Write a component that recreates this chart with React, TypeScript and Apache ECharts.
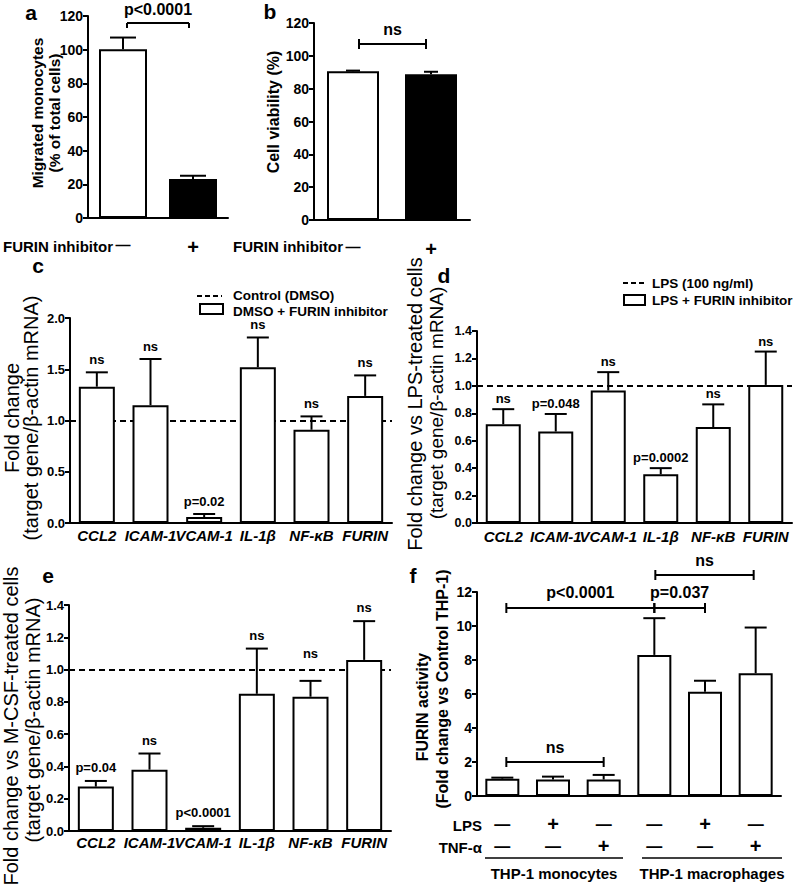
import React, { useEffect, useRef } from "react";
import * as echarts from "echarts";

// ---------- data ----------
const genes = ["CCL2", "ICAM-1", "VCAM-1", "IL-1β", "NF-κB", "FURIN"];

// panel a
const aCategories = ["—", "+"];
const aValues = [100.3, 23.2];
const aErrTop = [107.2, 25.1];
const aBrackets = [[0, 1, 115.8]];
const aBracketLabels = ["p<0.0001"];

// panel b
const bCategories = ["—", "+"];
const bValues = [90.6, 88.8];
const bErrTop = [91.0, 90.3];
const bBrackets = [[0, 1, 107.2]];
const bBracketLabels = ["ns"];

// panel c
const cValues = [1.33, 1.15, 0.058, 1.52, 0.91, 1.24];
const cErrTop = [1.47, 1.6, 0.088, 1.81, 1.04, 1.44];
const cSig = ["ns", "ns", "p=0.02", "ns", "ns", "ns"];

// panel d
const dValues = [0.72, 0.667, 0.966, 0.355, 0.7, 1.007];
const dErrTop = [0.83, 0.795, 1.1, 0.4, 0.865, 1.25];
const dSig = ["ns", "p=0.048", "ns", "p=0.0002", "ns", "ns"];

// panel e
const eValues = [0.275, 0.38, 0.02, 0.85, 0.832, 1.06];
const eErrTop = [0.31, 0.48, 0.03, 1.13, 0.93, 1.3];
const eSig = ["p=0.04", "ns", "p<0.0001", "ns", "ns", "ns"];

// panel f
const fCategories = ["mono", "mono+LPS", "mono+TNF", "macro", "macro+LPS", "macro+TNF"];
const fLPS = ["—", "+", "—", "—", "+", "—"];
const fTNF = ["—", "—", "+", "—", "—", "+"];
const fValues = [1.02, 0.97, 0.97, 8.3, 6.13, 7.22];
const fErrTop = [1.08, 1.14, 1.24, 10.46, 6.78, 9.91];
const fBrackets = [
  [0, 3, 11.06],
  [3, 4, 11.06],
  [3, 5, 13.0],
  [0, 2, 2.0],
];
const fBracketLabels = ["p<0.0001", "p=0.037", "ns", "ns"];

// ---------- layout constants (pixel tweaks, not data) ----------
const eLabelLift = [0, 0, 0, 0, 14, 0];

// ---------- helpers ----------
const FONT = "'Liberation Sans', Arial, Helvetica, sans-serif";

function text(
  x: number,
  y: number,
  t: string,
  size: number,
  opts: { bold?: boolean; align?: string; rot?: number; italic?: boolean } = {}
) {
  return {
    type: "text",
    x,
    y,
    rotation: opts.rot || 0,
    silent: true,
    style: {
      text: t,
      fill: "#000",
      fontSize: size,
      fontFamily: FONT,
      fontWeight: opts.bold === false ? "normal" : "bold",
      fontStyle: opts.italic ? "italic" : "normal",
      align: opts.align || "center",
      verticalAlign: "middle",
    },
  };
}

function hline(x1: number, x2: number, y: number, w = 2, dash?: number[]) {
  return {
    type: "line",
    silent: true,
    shape: { x1, y1: y, x2, y2: y },
    style: { stroke: "#000", lineWidth: w, lineDash: dash },
  };
}

const axisLineStyle = { color: "#000", width: 2 };

const signRich = {
  m: { fontSize: 15, fontWeight: "bold", color: "#000", fontFamily: FONT },
  p: { fontSize: 20, fontWeight: "bold", color: "#000", fontFamily: FONT },
};
const sign = (s: string) => (s === "+" ? `{p|+}` : `{m|${s}}`);

function xCat(gridIndex: number, data: string[], label: any) {
  return {
    gridIndex,
    type: "category",
    data,
    axisLine: { lineStyle: axisLineStyle },
    axisTick: { alignWithLabel: true, length: 5, lineStyle: axisLineStyle },
    axisLabel: Object.assign(
      { color: "#000", fontFamily: FONT, fontWeight: "bold", interval: 0, hideOverlap: false },
      label
    ),
    splitLine: { show: false },
  };
}

function yVal(gridIndex: number, max: number, interval: number, fontSize: number, dec: number) {
  return {
    gridIndex,
    type: "value",
    min: 0,
    max,
    interval,
    axisLine: { show: true, lineStyle: axisLineStyle },
    axisTick: { show: true, length: 5, lineStyle: axisLineStyle },
    splitLine: { show: false },
    axisLabel: {
      color: "#000",
      fontFamily: FONT,
      fontWeight: "bold",
      fontSize,
      margin: 5,
      formatter: (v: number) => v.toFixed(dec),
    },
  };
}

function barSeries(idx: number, values: number[], width: number, colors?: string[], refLine?: boolean) {
  const s: any = {
    type: "bar",
    xAxisIndex: idx,
    yAxisIndex: idx,
    barWidth: width,
    z: 2,
    data: values.map((v, i) => ({
      value: v,
      itemStyle: { color: colors ? colors[i] : "#fff", borderColor: "#000", borderWidth: 2 },
    })),
  };
  if (refLine) {
    s.markLine = {
      silent: true,
      symbol: ["none", "none"],
      label: { show: false },
      lineStyle: { color: "#000", width: 2, type: [6, 4] },
      data: [{ yAxis: 1 }],
      z: 1,
    };
  }
  return s;
}

function errSeries(
  idx: number,
  values: number[],
  errs: number[],
  labels: string[] | null,
  cap: number,
  gap: number,
  fs: number,
  lift?: number[]
) {
  return {
    type: "custom",
    xAxisIndex: idx,
    yAxisIndex: idx,
    clip: false,
    z: 5,
    silent: true,
    data: values.map((v, i) => [i, v, errs[i]]),
    renderItem: (params: any, api: any) => {
      const i = api.value(0);
      const p0 = api.coord([i, api.value(1)]);
      const p1 = api.coord([i, api.value(2)]);
      const st = { stroke: "#000", lineWidth: 2 };
      const children: any[] = [
        { type: "line", shape: { x1: p0[0], y1: p0[1], x2: p1[0], y2: p1[1] }, style: st },
        { type: "line", shape: { x1: p1[0] - cap / 2, y1: p1[1], x2: p1[0] + cap / 2, y2: p1[1] }, style: st },
      ];
      const lab = labels ? labels[params.dataIndex] : "";
      if (lab) {
        const extra = lift ? lift[params.dataIndex] : 0;
        children.push({
          type: "text",
          x: p1[0],
          y: p1[1] - gap - extra,
          style: {
            text: lab,
            fill: "#000",
            fontSize: fs,
            fontWeight: "bold",
            fontFamily: FONT,
            align: "center",
            verticalAlign: "bottom",
          },
        });
      }
      return { type: "group", children };
    },
  };
}

function bracketSeries(
  idx: number,
  brackets: number[][],
  labels: string[],
  insets: number[][],
  ends: string,
  fs: number,
  gap: number
) {
  return {
    type: "custom",
    xAxisIndex: idx,
    yAxisIndex: idx,
    clip: false,
    z: 6,
    silent: true,
    data: brackets,
    renderItem: (params: any, api: any) => {
      const k = params.dataIndex;
      const a = api.coord([api.value(0), api.value(2)]);
      const b = api.coord([api.value(1), api.value(2)]);
      const ins = insets[k] || [0, 0];
      const x1 = a[0] + ins[0];
      const x2 = b[0] + ins[1];
      const y = a[1];
      const st = { stroke: "#000", lineWidth: 2 };
      const top = ends === "down" ? y : y - 5;
      const bot = y + 5;
      return {
        type: "group",
        children: [
          { type: "line", shape: { x1, y1: y, x2, y2: y }, style: st },
          { type: "line", shape: { x1, y1: top, x2: x1, y2: bot }, style: st },
          { type: "line", shape: { x1: x2, y1: top, x2, y2: bot }, style: st },
          {
            type: "text",
            x: (x1 + x2) / 2,
            y: (ends === "down" ? y : y - 5) - gap,
            style: {
              text: labels[k],
              fill: "#000",
              fontSize: fs,
              fontWeight: "bold",
              fontFamily: FONT,
              align: "center",
              verticalAlign: "bottom",
            },
          },
        ],
      };
    },
  };
}

const geneLabel = (margin: number) => ({
  fontSize: 15,
  fontStyle: "italic",
  margin,
});

export default function App() {
  const ref = useRef<HTMLDivElement>(null);

  useEffect(() => {
    if (!ref.current) return;
    const chart = echarts.init(ref.current, undefined, { renderer: "svg" });

    const option: any = {
      animation: false,
      backgroundColor: "#fff",
      textStyle: { fontFamily: FONT },
      grid: [
        { left: 88, top: 16, width: 140, height: 202 },
        { left: 314, top: 23, width: 156, height: 197 },
        { left: 70, top: 318, width: 322, height: 205 },
        { left: 477, top: 331, width: 315, height: 192 },
        { left: 69, top: 605, width: 322, height: 226 },
        { left: 477, top: 592, width: 304, height: 204 },
      ],
      xAxis: [
        xCat(0, aCategories, { margin: 19, formatter: (v: string) => sign(v), rich: signRich }),
        xCat(1, bCategories, { margin: 19, formatter: (v: string) => sign(v), rich: signRich }),
        xCat(2, genes, geneLabel(5)),
        xCat(3, genes, geneLabel(6)),
        xCat(4, genes, geneLabel(4)),
        xCat(5, fCategories, {
          margin: 17,
          lineHeight: 22,
          rich: {
            m: { fontSize: 16, fontWeight: "bold", color: "#000", fontFamily: FONT, lineHeight: 22 },
            p: { fontSize: 20, fontWeight: "bold", color: "#000", fontFamily: FONT, lineHeight: 22 },
          },
          formatter: (_v: string, i: number) => `${sign(fLPS[i])}\n${sign(fTNF[i])}`,
        }),
      ],
      yAxis: [
        yVal(0, 120, 20, 14, 0),
        yVal(1, 120, 20, 14, 0),
        yVal(2, 2, 0.5, 13, 1),
        yVal(3, 1.4, 0.2, 12.5, 1),
        yVal(4, 1.4, 0.2, 13, 1),
        yVal(5, 12, 2, 14, 0),
      ],
      series: [
        barSeries(0, aValues, 48, ["#fff", "#000"]),
        errSeries(0, aValues, aErrTop, null, 26, 0, 13),
        bracketSeries(0, aBrackets, aBracketLabels, [[4, -4]], "down", 16, 6),

        barSeries(1, bValues, 52, ["#fff", "#000"]),
        errSeries(1, bValues, bErrTop, null, 14, 0, 13),
        bracketSeries(1, bBrackets, bBracketLabels, [[6, -5]], "I", 16, 2),

        barSeries(2, cValues, 36, undefined, true),
        errSeries(2, cValues, cErrTop, cSig, 22, 6, 13),

        barSeries(3, dValues, 35, undefined, true),
        errSeries(3, dValues, dErrTop, dSig, 22, 4, 13),

        barSeries(4, eValues, 36, undefined, true),
        errSeries(4, eValues, eErrTop, eSig, 22, 7, 13, eLabelLift),

        barSeries(5, fValues, 34),
        errSeries(5, fValues, fErrTop, null, 22, 0, 13),
        bracketSeries(5, fBrackets, fBracketLabels, [[4, 0], [0, 0], [1, -2], [4, 0]], "I", 16, 2),
      ],
      graphic: [
        // panel letters
        text(31, 12, "a", 21),
        text(270, 11, "b", 21),
        text(38, 265, "c", 21),
        text(444, 275, "d", 21),
        text(48, 575, "e", 21),
        text(413, 575, "f", 21),

        // panel a / b
        text(37, 113, "Migrated monocytes", 15.5, { rot: Math.PI / 2 }),
        text(54, 113, "(% of total cells)", 15.5, { rot: Math.PI / 2 }),
        text(273, 112, "Cell viability (%)", 16, { rot: Math.PI / 2 }),
        text(113, 246, "FURIN inhibitor", 15, { align: "right" }),
        text(343, 246, "FURIN inhibitor", 15, { align: "right" }),

        // panel c
        text(12, 418, "Fold change", 20, { rot: Math.PI / 2, bold: false }),
        text(31, 418, "(target gene/β-actin mRNA)", 20, { rot: Math.PI / 2, bold: false }),
        hline(197, 222, 296, 2, [5, 3]),
        text(233, 295, "Control (DMSO)", 13.5, { align: "left" }),
        {
          type: "rect",
          silent: true,
          shape: { x: 200, y: 304, width: 23, height: 10 },
          style: { fill: "#fff", stroke: "#000", lineWidth: 2 },
        },
        text(233, 311, "DMSO + FURIN inhibitor", 13.5, { align: "left" }),

        // panel d
        text(415, 404, "Fold change vs LPS-treated cells", 20, { rot: Math.PI / 2, bold: false }),
        text(436, 403, "(target gene/β-actin mRNA)", 19, { rot: Math.PI / 2, bold: false }),
        hline(623, 645, 283, 2, [5, 3]),
        text(652, 283, "LPS (100 ng/ml)", 13.5, { align: "left" }),
        {
          type: "rect",
          silent: true,
          shape: { x: 624, y: 295, width: 21, height: 10 },
          style: { fill: "#fff", stroke: "#000", lineWidth: 2 },
        },
        text(652, 300, "LPS + FURIN inhibitor", 13.5, { align: "left" }),

        // panel e
        text(11, 726, "Fold change vs M-CSF-treated cells", 20, { rot: Math.PI / 2, bold: false }),
        text(33, 720, "(target gene/β-actin mRNA)", 20, { rot: Math.PI / 2, bold: false }),

        // panel f
        text(422, 707, "FURIN activity", 16, { rot: Math.PI / 2 }),
        text(442, 689, "(Fold change vs Control THP-1)", 16, { rot: Math.PI / 2 }),
        text(482, 825, "LPS", 15, { align: "right" }),
        text(482, 847, "TNF-α", 15, { align: "right" }),
        hline(485, 623, 858, 1.5),
        hline(642, 782, 858, 1.5),
        text(554, 873, "THP-1 monocytes", 15),
        text(712, 873, "THP-1 macrophages", 15),
      ],
    };

    chart.setOption(option);
    return () => chart.dispose();
  }, []);

  return (
    <div
      ref={ref}
      style={{ position: "absolute", left: 0, top: 0, width: 800, height: 891, background: "#fff" }}
    />
  );
}
